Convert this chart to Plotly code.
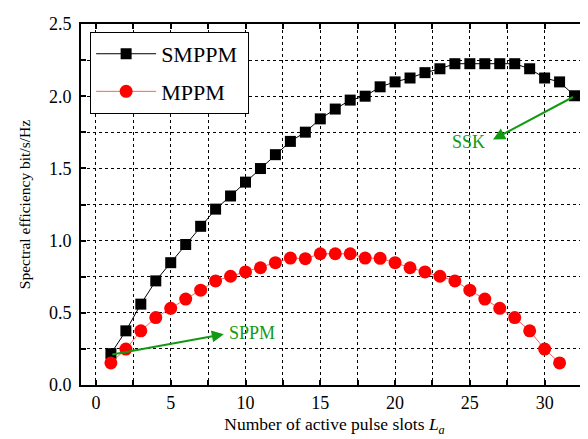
import plotly.graph_objects as go

slots_smppm = list(range(1, 33))
smppm = [0.217, 0.375, 0.56, 0.721, 0.847, 0.973, 1.099, 1.218, 1.309, 1.405,
         1.499, 1.595, 1.687, 1.751, 1.843, 1.911, 1.973, 2.0, 2.065, 2.099,
         2.126, 2.163, 2.19, 2.225, 2.225, 2.225, 2.225, 2.225, 2.19, 2.126,
         2.099, 2.003]

slots_mppm = list(range(1, 32))
mppm = [0.153, 0.249, 0.375, 0.467, 0.531, 0.595, 0.657, 0.721, 0.753, 0.783,
        0.812, 0.847, 0.879, 0.875, 0.909, 0.909, 0.909, 0.879, 0.877, 0.847,
        0.812, 0.783, 0.753, 0.721, 0.657, 0.595, 0.531, 0.467, 0.375, 0.249,
        0.153]

x_ticks = [0, 5, 10, 15, 20, 25, 30]
y_ticks = [0.0, 0.5, 1.0, 1.5, 2.0, 2.5]

FONT = "Liberation Serif"
GREEN = "#129a12"

fig = go.Figure()
fig.add_trace(go.Scatter(
    x=slots_smppm, y=smppm, name="SMPPM ", mode="lines+markers",
    line=dict(color="black", width=1),
    marker=dict(symbol="square", size=11, color="black"),
    legendgroup="a",
))
fig.add_trace(go.Scatter(
    x=slots_mppm, y=mppm, name="MPPM", mode="lines+markers",
    line=dict(color="rgba(255,40,40,0.75)", width=1),
    marker=dict(symbol="circle", size=13, color="#ff0000"),
    legendgroup="b",
))

axis_common = dict(
    showline=True, linecolor="black", linewidth=2, mirror="ticks",
    ticks="inside", ticklen=5, tickwidth=2, tickcolor="black",
    showgrid=True, gridcolor="black", gridwidth=1, griddash="dot",
    zeroline=False,
    tickfont=dict(family=FONT, size=18, color="black"),
)

fig.update_xaxes(
    range=[-1, 32.9], tickmode="array", tickvals=x_ticks,
    minor=dict(dtick=2.5, tick0=0, ticks="inside", ticklen=5, tickwidth=2,
               tickcolor="black", showgrid=True, gridcolor="black",
               gridwidth=1, griddash="dot"),
    title=dict(text="Number of active pulse slots <i>L<sub>a</sub></i>",
               font=dict(family=FONT, size=17.5, color="black"), standoff=6),
    ticklabelstandoff=0,
    **axis_common,
)
fig.update_yaxes(
    range=[0, 2.5], tickmode="array", tickvals=y_ticks,
    ticktext=[f"{v:.1f}" for v in y_ticks],
    minor=dict(dtick=0.25, tick0=0, ticks="inside", ticklen=5, tickwidth=2,
               tickcolor="black", showgrid=True, gridcolor="black",
               gridwidth=1, griddash="dot"),
    title=dict(text="Spectral efficiency bit/s/Hz",
               font=dict(family=FONT, size=15.5, color="black"), standoff=14),
    ticklabelstandoff=4,
    **axis_common,
)

# SSK arrow and label
fig.add_annotation(x=26.55, y=1.70, ax=32, ay=2.0, axref="x", ayref="y",
                   xref="x", yref="y", text="", showarrow=True,
                   arrowhead=2, arrowsize=1.2, arrowwidth=2, arrowcolor=GREEN)
fig.add_annotation(x=24.9, y=1.68, text="SSK", showarrow=False,
                   font=dict(family=FONT, size=18, color=GREEN))
# SPPM arrow and label
fig.add_annotation(x=8.55, y=0.352, ax=0.99, ay=0.21, axref="x", ayref="y",
                   xref="x", yref="y", text="", showarrow=True,
                   arrowhead=2, arrowsize=1.2, arrowwidth=2, arrowcolor=GREEN)
fig.add_annotation(x=8.75, y=0.36, text="SPPM", showarrow=False,
                   xanchor="left",
                   font=dict(family=FONT, size=18, color=GREEN))

fig.update_layout(
    width=588, height=439,
    margin=dict(l=73, r=6, t=13, b=62),
    paper_bgcolor="white", plot_bgcolor="white",
    font=dict(family=FONT, size=18, color="black"),
    showlegend=True,
    legend=dict(x=0.018, y=0.978, xanchor="left", yanchor="top",
                bgcolor="white", bordercolor="black", borderwidth=1,
                font=dict(family=FONT, size=22, color="black"),
                itemwidth=60, tracegroupgap=6),
)

fig.write_html("out.html")
